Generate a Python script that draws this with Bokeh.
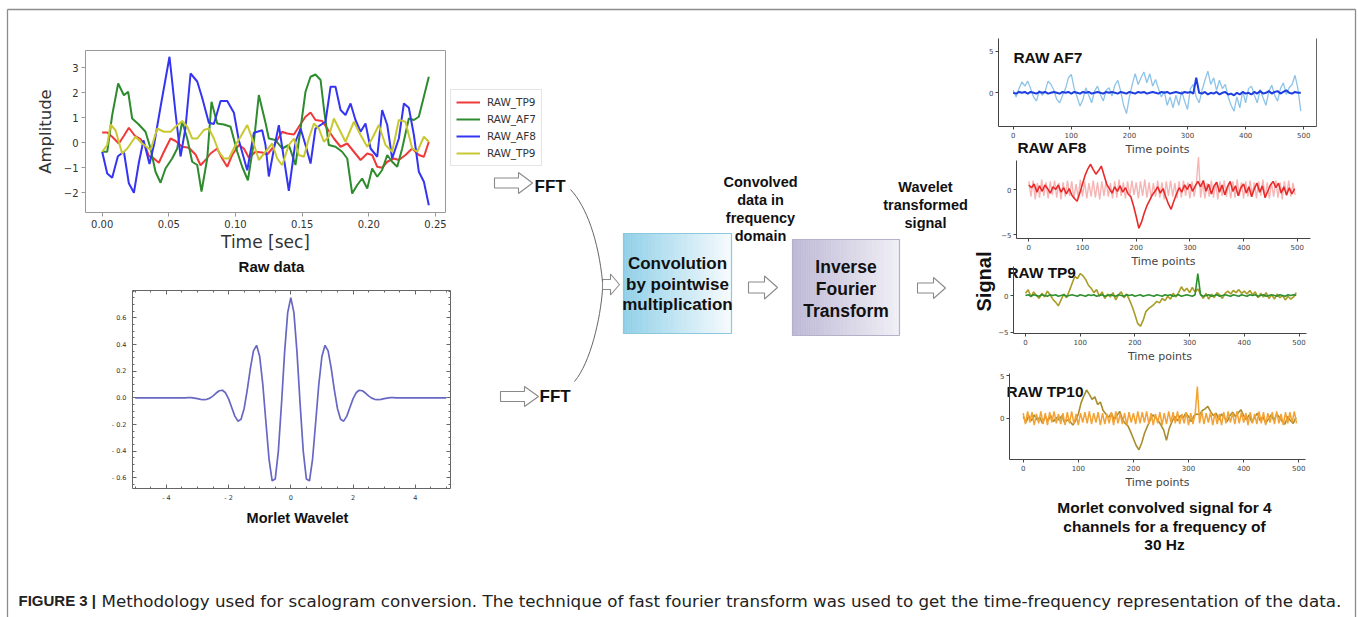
import numpy as np
from bokeh.plotting import figure
from bokeh.models import (Range1d, FixedTicker, Legend, LegendItem, LinearAxis,
                          CustomJSTickFormatter, PrintfTickFormatter)
from bokeh.embed import file_html
from bokeh.resources import INLINE
from bokeh.core.properties import value


def nums(s):
    return [float(x) for x in s.split()]


# ============================ DATA ============================
# --- Raw data panel (time in seconds, amplitude) ---
raw_tp9_t = [0.0, 0.0038, 0.0075, 0.0125, 0.0163, 0.02, 0.0245, 0.0288, 0.0325, 0.035, 0.0388, 0.0425,
             0.0463, 0.0513, 0.055, 0.06, 0.065, 0.07, 0.0738, 0.0775, 0.0813, 0.0863, 0.09, 0.0938,
             0.0975, 0.1025, 0.1063, 0.11, 0.115, 0.12, 0.1238, 0.1275, 0.135, 0.1388, 0.1438, 0.1475,
             0.1525, 0.1563, 0.16, 0.165, 0.1688, 0.1738, 0.1788, 0.1838, 0.1888, 0.1938, 0.1988,
             0.2025, 0.2063, 0.21, 0.2138, 0.2188, 0.2225, 0.2275, 0.2325, 0.2375, 0.2413, 0.245]
raw_tp9_v = [0.41, 0.41, 0.24, -0.03, 0.28, 0.6, 0.28, 0.15, -0.16, -0.53, -0.63, -0.8, -0.36, 0.17,
             0.07, -0.16, -0.2, -0.47, -0.9, -0.69, -0.43, -0.23, -0.63, -0.96, -0.49, -0.09, -0.23,
             -0.6, -0.36, -0.39, -0.47, -0.23, 0.44, 0.37, 0.33, 0.64, 1.04, 1.21, 0.91, 0.87, 0.57,
             0.17, -0.16, -0.03, -0.36, -0.69, -0.43, -0.49, -0.96, -1.0, -0.76, -0.63, -0.69, -0.49,
             -0.23, -0.49, -0.56, 0.04]

raw_af7_t = [0.0, 0.0038, 0.0075, 0.012, 0.0163, 0.0195, 0.0225, 0.0275, 0.0325, 0.0363, 0.04, 0.0438,
             0.0475, 0.0525, 0.0563, 0.06, 0.0638, 0.0675, 0.0713, 0.0745, 0.0788, 0.082, 0.0863,
             0.0913, 0.0963, 0.1013, 0.105, 0.1093, 0.1138, 0.1175, 0.1225, 0.125, 0.13, 0.135, 0.14,
             0.145, 0.1488, 0.1525, 0.1563, 0.16, 0.1638, 0.1663, 0.17, 0.175, 0.18, 0.1838, 0.1875,
             0.1913, 0.195, 0.1988, 0.2025, 0.2063, 0.21, 0.2138, 0.2175, 0.2213, 0.225, 0.23, 0.2338,
             0.2375, 0.245]
raw_af7_v = [-0.36, -0.36, 1.1, 2.37, 1.9, 2.04, 0.97, 0.73, 0.44, -0.23, -1.16, -1.6, -1.03, -0.63,
             -0.23, 0.84, 0.17, -0.76, -0.89, -1.95, -0.63, 1.64, 0.77, 0.73, 0.64, -0.36, -0.96, -1.5,
             0.04, 1.91, 0.8, 0.17, 0.11, -0.23, -0.09, -0.89, 0.57, 2.04, 2.64, 2.73, 2.51, 1.37,
             -0.09, -0.16, -0.36, -0.63, -2.03, -1.69, -1.43, -1.83, -1.03, -1.36, -1.09, -0.49, -0.76,
             -0.96, -0.23, 0.97, 0.91, 1.04, 2.64]

raw_af8_t = [0.0, 0.0038, 0.0075, 0.0118, 0.0163, 0.02, 0.0238, 0.0275, 0.031, 0.0355, 0.039, 0.044,
             0.0505, 0.055, 0.0588, 0.0625, 0.0663, 0.0713, 0.075, 0.08, 0.0838, 0.0888, 0.0938, 0.0988,
             0.1025, 0.1088, 0.1138, 0.12, 0.1225, 0.125, 0.1288, 0.1325, 0.1363, 0.14, 0.145, 0.1488,
             0.1525, 0.1563, 0.16, 0.1638, 0.1675, 0.1713, 0.175, 0.1788, 0.1825, 0.1863, 0.19, 0.1938,
             0.1975, 0.2013, 0.2063, 0.21, 0.2138, 0.2175, 0.2225, 0.2263, 0.23, 0.2338, 0.2375,
             0.2413, 0.245]
raw_af8_v = [-0.36, -1.23, -1.4, -0.54, -0.36, -1.62, -2.0, -0.8, 0.1, -0.85, -0.05, 1.5, 3.44, 1.2,
             -0.55, 0.6, 2.77, 2.45, 1.8, 0.8, 0.75, 1.67, 1.67, 1.2, 0.1, -1.1, 0.4, 0.5, -0.09, -1.35,
             -0.25, 0.7, -0.63, -1.92, 0.04, 0.57, -0.09, -0.83, 0.57, 0.71, 0.84, 2.24, 2.24, 1.31,
             1.11, 1.57, 0.91, 0.44, 0.77, -0.23, -0.56, 1.31, 0.71, -0.63, 0.17, 1.57, 1.4, 0.31,
             -1.16, -1.56, -2.5]

raw_tp10_t = [0.0, 0.0038, 0.0063, 0.01, 0.015, 0.0188, 0.025, 0.03, 0.0363, 0.0413, 0.0463, 0.0513,
              0.055, 0.06, 0.0638, 0.0675, 0.0713, 0.0763, 0.08, 0.0838, 0.0875, 0.0913, 0.095, 0.1,
              0.1038, 0.1088, 0.1125, 0.1175, 0.1225, 0.1275, 0.1313, 0.135, 0.14, 0.1438, 0.1475,
              0.1513, 0.155, 0.1588, 0.1625, 0.1663, 0.17, 0.1738, 0.1775, 0.1825, 0.1888, 0.1938,
              0.1988, 0.2025, 0.2075, 0.2125, 0.2175, 0.2225, 0.2275, 0.2325, 0.2363, 0.2413, 0.245]
raw_tp10_v = [-0.36, -0.09, 0.73, 0.5, -0.43, -0.23, 0.24, -0.03, -0.29, 0.57, 0.44, 0.44, 0.64, 0.87,
              0.64, 0.17, 0.17, 0.51, 0.57, 0.17, -0.36, -0.63, -0.63, -0.09, 0.24, 0.71, 0.17, -0.69,
              -0.36, -0.03, -0.63, -0.9, -0.09, 0.17, -0.49, -0.56, 0.17, 0.77, 0.57, 0.04, 0.24, 0.97,
              0.57, 0.04, 0.84, 0.31, -0.16, 0.17, 0.71, -0.09, -0.36, 0.91, 0.84, -0.23, -0.36, 0.24,
              0.04]

raw_labels = ["RAW_TP9", "RAW_AF7", "RAW_AF8", "RAW_TP9"]
raw_xticks = [0.0, 0.05, 0.1, 0.15, 0.2, 0.25]
raw_yticks = [-2, -1, 0, 1, 2, 3]

# --- Morlet wavelet (sampled every 0.1 between -3.5 and 3.5, flat outside) ---
morlet_grid = [round(-3.5 + 0.1 * i, 1) for i in range(71)]
morlet_vals = [0.0, 0.0, 0.001, 0.001, -0.002, -0.006, -0.011, -0.014, -0.011, -0.002, 0.015, 0.036,
               0.053, 0.057, 0.038, -0.008, -0.072, -0.137, -0.175, -0.161, -0.080, 0.059, 0.221,
               0.352, 0.394, 0.310, 0.100, -0.183, -0.459, -0.622, -0.608, -0.399, -0.048, 0.339,
               0.639, 0.751, 0.639, 0.339, -0.048, -0.399, -0.608, -0.622, -0.459, -0.183, 0.100,
               0.310, 0.394, 0.352, 0.221, 0.059, -0.080, -0.161, -0.175, -0.137, -0.072, -0.008,
               0.038, 0.057, 0.053, 0.036, 0.015, -0.002, -0.011, -0.014, -0.011, -0.006, -0.002,
               0.001, 0.001, 0.0, 0.0]
morlet_t = [-5.0] + morlet_grid + [5.0]
morlet_y = [0.0] + morlet_vals + [0.0]
morlet_xticks = [-4, -2, 0, 2, 4]
morlet_yticks = [-0.6, -0.4, -0.2, 0.0, 0.2, 0.4, 0.6]

# --- Convolved signals, 500 time points (slow series every 5 points, fast every 4) ---
af7_raw = nums("""
0.3 -0.5 0.5 1.3 0.8 1.4 0.5 -0.5 -1.0 0.3
-0.3 0.2 1.4 1.0 0.3 -0.8 -1.2 -0.3 0.5 1.8
2.2 0.5 -0.5 -1.6 -0.8 0.6 -0.3 -1.2 0.2 0.8
-0.2 -1.0 0.3 0.6 -0.4 0.9 1.5 0.2 -1.5 -2.5
-0.5 1.0 2.3 1.0 1.8 2.5 1.2 2.3 0.8 1.6
0.5 -0.5 0.2 -1.5 -0.5 -1.8 -0.3 -1.5 0.2 -1.0
-2.0 0.5 1.0 -0.5 -1.2 0.3 1.5 2.6 1.0 1.8
0.3 1.5 0.5 1.0 -0.5 -1.5 -2.2 -0.5 -1.8 0.2
-1.2 0.5 0.8 -0.3 -1.2 0.4 -0.6 -1.5 0.2 0.9
-0.3 -1.0 0.5 1.2 -0.2 0.6 1.0 2.1 0.5 -2.2
""")
af7_conv = nums("""
0.0 -0.1 0.1 0.0 0.1 -0.1 0.1 0.0 -0.1 0.1
0.0 0.1 -0.1 0.0 0.1 0.0 -0.1 0.1 0.0 0.1
-0.1 0.1 0.0 -0.1 0.1 0.0 0.1 -0.1 0.0 0.1
0.0 -0.1 0.1 0.0 0.1 0.0 -0.1 0.1 0.0 -0.1
0.1 0.0 -0.1 0.1 0.0 0.1 -0.1 0.0 0.1 0.0
-0.1 0.1 0.0 0.1 -0.1 0.0 0.1 0.0 -0.1 0.1
0.0 0.1 -0.1 1.8 0.0 -0.1 0.1 -0.2 0.0 -0.1
0.1 -0.2 0.0 0.1 -0.2 -0.1 -0.3 0.0 -0.2 0.1
-0.1 0.0 -0.2 0.1 -0.1 0.2 -0.1 0.0 0.2 -0.1
0.1 0.2 -0.1 0.1 0.3 0.0 -0.1 0.1 0.0 0.0
""")
af8_raw = nums("""
0.9 -0.8 1.0 -1.1 0.7 -0.9 1.1 -0.7 0.8 -1.0
0.9 -0.6 1.0 -0.9 0.7 -1.1 0.8 -0.8 1.0 -0.7
0.9 -1.0 0.6 -0.9 1.1 -0.8 0.9 -1.0 0.7 -0.8
1.0 -0.9 0.8 -1.1 0.9 -0.7 1.0 -0.8 0.7 -1.0
0.9 -0.9 1.1 -0.7 0.8 -1.0 0.9 -0.8 1.0 -0.6
0.8 -1.0 0.9 -0.7 1.1 -0.9 0.8 -1.0 0.7 -0.8
1.0 -0.9 0.8 -1.1 0.9 -0.7 1.0 -0.8 0.7 -1.0
0.9 -0.9 1.0 -0.7 0.8 -1.0 0.9 -0.8 0.7 3.6
-0.9 0.8 -1.0 0.7 -0.8 1.0 -0.9 0.8 -1.1 0.9
-0.7 1.0 -0.8 0.7 -1.0 0.9 -0.9 1.1 -0.7 0.8
-1.0 0.9 -0.8 1.0 -0.6 0.8 -1.0 0.9 -0.7 1.1
-0.9 0.8 -1.0 0.7 -0.8 1.0 -0.9 0.8 -1.1 0.9
-0.7 1.0 -0.8 0.7 -0.6
""")
af8_conv = nums("""
0.5 0.2 0.6 -0.3 0.4 -0.2 0.5 0.1 -0.4 0.3
0.0 0.5 -0.3 0.2 -0.5 0.1 -0.6 -1.0 -1.3 -0.4
0.6 1.6 2.3 2.8 2.2 1.7 2.1 2.6 1.6 0.6
0.1 -0.4 0.3 -0.2 0.4 -0.3 0.2 -0.5 -0.8 -1.8
-3.0 -4.3 -3.6 -2.6 -1.8 -1.2 -0.6 -0.2 0.3 -0.4
0.1 -0.8 -1.6 -2.2 -1.3 -0.5 0.2 -0.3 0.5 0.0
0.6 -0.2 0.4 0.9 0.3 1.0 -0.2 0.6 -0.5 0.4
0.8 -0.3 0.5 -0.6 0.3 0.9 -0.2 0.4 -0.7 0.2
0.6 -0.4 0.3 -0.8 0.1 0.7 -0.3 0.4 -0.9 -0.2
0.5 0.9 0.2 0.7 -0.4 0.3 -0.6 0.2 -0.5 0.1
""")
tp9_raw = nums("""
0.3 0.8 -0.2 0.5 0.0 -0.4 0.3 -0.2 0.6 0.1
-0.5 -0.9 -1.4 -0.6 0.2 -0.3 0.6 1.6 2.6 2.3
3.0 2.7 2.2 1.4 1.0 0.4 0.8 -0.1 0.5 -0.4
0.2 -0.2 0.4 -0.6 0.1 0.5 -0.3 0.2 -0.6 -1.5
-2.6 -3.8 -4.2 -3.4 -2.2 -1.8 -1.5 -1.2 -0.8 -1.0
-0.4 -0.7 -0.1 -0.5 0.3 -0.2 0.4 1.2 0.6 1.0
0.4 1.1 0.5 0.9 0.2 -0.4 0.3 -0.5 0.2 -0.3
0.4 0.1 -0.4 0.3 0.6 0.2 0.7 0.4 0.8 0.3
0.6 0.2 0.7 0.1 0.5 -0.3 0.3 -0.2 0.4 -0.4
0.1 -0.5 0.2 -0.3 0.0 -0.6 -0.1 -0.5 -0.2 0.4
""")
tp9_conv = nums("""
0.0 0.1 -0.1 0.1 0.0 -0.1 0.1 0.0 -0.1 0.1
0.0 0.1 -0.1 0.0 0.1 -0.1 0.0 0.1 0.0 -0.1
0.1 0.0 -0.1 0.1 0.0 0.1 -0.1 0.0 0.1 -0.1
0.0 0.1 0.0 -0.1 0.1 0.0 -0.1 0.1 0.0 0.1
-0.1 0.0 0.1 -0.1 0.0 0.1 0.0 -0.1 0.1 0.0
-0.1 0.1 0.0 0.1 -0.1 0.0 0.1 -0.1 0.0 0.1
0.0 -0.1 0.1 3.0 0.1 -0.1 0.0 0.1 -0.1 0.0
0.1 -0.1 0.0 0.1 0.0 -0.1 0.1 0.0 -0.1 0.1
0.0 -0.1 0.1 0.0 0.1 -0.1 0.0 0.1 -0.1 0.0
0.1 0.0 -0.1 0.1 0.0 -0.1 0.1 0.0 0.1 0.0
""")
tp10_raw = nums("""
0.2 -0.5 0.3 -0.3 0.4 -0.2 0.1 -0.6 0.2 -0.3
0.3 -0.4 0.1 -0.2 0.3 -0.5 -0.2 -0.4 -0.8 -0.3
0.5 1.8 2.6 3.3 2.8 2.2 2.5 1.6 1.9 0.9
0.5 0.1 0.6 -0.2 0.3 0.8 -0.1 -0.6 -0.9 -1.6
-2.4 -3.2 -3.7 -2.9 -1.8 -1.0 -0.3 0.4 0.1 -0.3
-0.8 -1.4 -2.6 -1.2 -0.4 0.2 -0.3 0.3 0.0 0.6
0.2 -0.4 0.3 0.5 0.4 0.9 1.1 1.4 0.8 0.3
0.6 -0.2 0.5 0.1 -0.4 0.3 0.7 0.2 0.6 1.0
0.3 -0.2 0.4 -0.5 0.1 0.6 -0.3 0.2 -0.6 -0.1
0.4 -0.3 0.5 0.1 -0.4 -0.7 0.2 -0.3 -0.6 0.1
""")
tp10_conv = nums("""
0.6 -0.7 0.8 -0.5 0.7 -0.8 0.5 -0.6 0.8 -0.7
0.6 -0.8 0.7 -0.5 0.8 -0.6 0.5 -0.7 0.6 -0.8
0.7 -0.6 0.8 -0.7 0.5 -0.8 0.6 -0.5 0.7 -0.6
0.8 -0.7 0.6 -0.5 0.7 -0.8 0.6 -0.7 0.5 -0.6
0.7 -0.8 0.8 -0.6 0.5 -0.7 0.6 -0.8 0.7 -0.5
0.6 -0.7 0.8 -0.6 0.7 -0.5 0.8 -0.7 0.6 -0.8
0.5 -0.6 0.7 -0.8 0.6 -0.7 0.8 -0.5 0.7 -0.6
0.8 -0.7 0.5 -0.6 0.7 -0.8 0.6 -0.7 0.5 3.7
-0.6 0.8 -0.7 0.6 -0.5 0.7 -0.8 0.6 -0.7 0.5
-0.8 0.7 -0.6 0.8 -0.5 0.6 -0.7 0.8 -0.6 0.7
-0.5 0.6 -0.8 0.7 -0.6 0.5 -0.7 0.8 -0.6 0.7
-0.8 0.6 -0.5 0.7 -0.7 0.8 -0.6 0.5 -0.8 0.7
-0.6 0.7 -0.5 0.8 -0.6
""")
panel_xticks = [0, 100, 200, 300, 400, 500]

# ============================ LAYOUT / STYLE ============================
W, H = 1358, 617
SANS = "Liberation Sans"
MPL = "DejaVu Sans"

# one canvas in pixel units (y downwards); each sub-plot gets its own pair of ranges
p = figure(width=W, height=H, output_backend="svg", toolbar_location=None,
           x_range=Range1d(0, W), y_range=Range1d(H, 0), x_axis_type=None, y_axis_type=None,
           min_border=0)
p.outline_line_color = None
p.background_fill_color = "white"
p.border_fill_color = "white"
p.xgrid.visible = False
p.ygrid.visible = False

XR, YR = {}, {}


def sub_ranges(name, box, xdom, ydom):
    px0, py0, px1, py1 = box          # left, top, right, bottom (pixels)
    x0, x1 = xdom
    ybot, ytop = ydom
    sx = (x1 - x0) / (px1 - px0)
    XR[name] = Range1d(x0 - px0 * sx, x0 + (W - px0) * sx)
    sy = (ytop - ybot) / (py1 - py0)
    YR[name] = Range1d(ytop - (H - py0) * sy, ytop + py0 * sy)


# sub-plot boxes and data domains
RAW_BOX, RAW_X, RAW_Y = (85, 50, 445, 212), (-0.0125, 0.2575), (-2.79, 3.69)
MOR_BOX, MOR_X, MOR_Y = (132, 290, 450, 488), (-5.09, 5.135), (-0.68, 0.805)
PANELS = [
    ("af7", (998, 38, 1316, 126), (-25.3, 522), (-4.05, 6.52), [0, 5]),
    ("af8", (1016, 160, 1310, 238), (-22.9, 524.6), (-5.44, 3.22), [-5, 0]),
    ("tp9", (1013, 266, 1306, 333), (-21.9, 513.7), (-5.18, 3.96), [-5, 0]),
    ("tp10", (1009, 373, 1305, 459), (-24.9, 512.3), (-4.84, 5.24), [0, 5]),
]
sub_ranges("raw", RAW_BOX, RAW_X, RAW_Y)
sub_ranges("mor", MOR_BOX, MOR_X, MOR_Y)
for name, box, xd, yd, _ in PANELS:
    sub_ranges(name, box, xd, yd)
p.extra_x_ranges = XR
p.extra_y_ranges = YR

minus_fmt = CustomJSTickFormatter(code="return tick < 0 ? '\u2212' + Math.abs(tick) : '' + tick;")
blank_fmt = CustomJSTickFormatter(code="return '';")


def add_axis(side, name, loc, bounds, ticks=(), minor=(), fmt=None, size="7px", color="#333333",
             line="#555555", tin=0, tout=3, minor_in=0, standoff=2, label=None, label_size="11px",
             label_standoff=2):
    ax = LinearAxis(x_range_name=name, y_range_name=name, fixed_location=loc, bounds=bounds)
    ax.ticker = FixedTicker(ticks=list(ticks), minor_ticks=list(minor))
    if fmt is not None:
        ax.formatter = fmt
    ax.major_label_text_font = MPL
    ax.major_label_text_font_size = size
    ax.major_label_text_color = color
    ax.major_label_standoff = standoff
    ax.axis_line_color = line
    ax.major_tick_line_color = line
    ax.major_tick_in = tin
    ax.major_tick_out = tout
    if minor:
        ax.minor_tick_line_color = line
        ax.minor_tick_in = minor_in
        ax.minor_tick_out = 0
    else:
        ax.minor_tick_line_color = None
    if label:
        ax.axis_label = label
        ax.axis_label_text_font = MPL
        ax.axis_label_text_font_style = "normal"
        ax.axis_label_text_font_size = label_size
        ax.axis_label_text_color = color
        ax.axis_label_standoff = label_standoff
    p.add_layout(ax, side)
    return ax


# ---------------- diagram (pixel units) ----------------
p.multi_line(xs=[[7, 1355], [7, 7], [1355, 1355]], ys=[[9, 9], [9, 640], [9, 640]],
             line_color="#8c8c8c", line_width=1.3)


def hexrgb(c):
    c = c.lstrip("#")
    return tuple(int(c[i:i + 2], 16) for i in (0, 2, 4))


def gradient_box(x0, x1, y0, y1, c0, c1, border, n=60):
    a, b = hexrgb(c0), hexrgb(c1)
    ls, rs, cols = [], [], []
    for i in range(n):
        f = (i + 0.5) / n
        cols.append("#%02x%02x%02x" % tuple(int(round(a[k] + (b[k] - a[k]) * f)) for k in range(3)))
        ls.append(x0 + (x1 - x0) * i / n)
        rs.append(x0 + (x1 - x0) * (i + 1) / n)
    p.quad(left=ls, right=rs, top=y0, bottom=y1, fill_color=cols, line_color=cols, line_width=0.6)
    p.quad(left=x0, right=x1, top=y0, bottom=y1, fill_color=None, line_color=border, line_width=1.2)


gradient_box(623, 731, 233, 333, "#8fcfe8", "#f6fbfd", "#8cc9df")
gradient_box(792, 899, 239, 335, "#bdb8d6", "#f0eff5", "#b5b1c9")


def hollow_arrow(x0, xh, x1, cy, s, h):
    xs = [x0, xh, xh, x1, xh, xh, x0]
    ys = [cy - s, cy - s, cy - h, cy, cy + h, cy + s, cy + s]
    p.patch(xs, ys, fill_color="white", line_color="#8a8a8a", line_width=1.1)


hollow_arrow(494, 518, 532, 182.5, 5, 10.5)
hollow_arrow(500, 524, 538, 396, 5, 10)
hollow_arrow(602, 610, 619, 284, 5, 10.5)
hollow_arrow(748, 764, 777, 287, 5.5, 11.5)
hollow_arrow(917, 933, 945, 287.5, 5, 10.5)

p.bezier(x0=[570, 574], y0=[189, 381], x1=[602, 602], y1=[281, 289],
         cx0=[586, 590], cy0=[206, 362], cx1=[598, 600], cy1=[240, 318],
         line_color="#666666", line_width=1)


def texts(items, size, bold=True, align="center", font=SANS, color="#111111", angle=0.0):
    p.text(x=[i[1] for i in items], y=[i[2] for i in items], text=[i[0] for i in items],
           text_font=value(font), text_font_size=size,
           text_font_style="bold" if bold else "normal", text_align=align,
           text_baseline="middle", text_color=color, angle=angle)


texts([("FFT", 534, 186), ("FFT", 539, 396)], "17px", align="left")
texts([("Convolution", 677, 263), ("by pointwise", 677, 284), ("multiplication", 677, 304)], "17px")
texts([("Convolved", 760, 181), ("data in", 760, 199), ("frequency", 760, 217), ("domain", 760, 235)], "14.5px")
texts([("Inverse", 845.5, 266), ("Fourier", 845.5, 288), ("Transform", 845.5, 310)], "17.5px")
texts([("Wavelet", 925, 186), ("transformed", 925, 204), ("signal", 925, 222)], "14.5px")
texts([("Raw data", 271, 266)], "15px")
texts([("Morlet Wavelet", 297, 517)], "14.5px")
texts([("RAW AF7", 1013, 57), ("RAW AF8", 1017, 147), ("RAW TP9", 1007, 272), ("RAW TP10", 1006, 391)],
      "15.4px", align="left")
texts([("Signal", 983, 281)], "20px", angle=np.pi / 2)
texts([("Morlet convolved signal for 4", 1164, 507), ("channels for a frequency of", 1164, 526),
       ("30 Hz", 1164, 544)], "15.5px")
texts([("FIGURE 3 |", 18, 600)], "15px", align="left", color="#222222")
texts([("Methodology used for scalogram conversion. The technique of fast fourier transform was used "
        "to get the time-frequency representation of the data.", 101, 600)], "16.7px", bold=False,
      align="left", font=MPL, color="#222222")

# ---------------- Raw data plot ----------------
rr = []
for tt, vv, col in [(raw_tp9_t, raw_tp9_v, "#f03a3a"), (raw_af7_t, raw_af7_v, "#2e8b2e"),
                    (raw_af8_t, raw_af8_v, "#3434f2"), (raw_tp10_t, raw_tp10_v, "#c8c832")]:
    rr.append(p.line(tt, vv, line_color=col, line_width=2, x_range_name="raw", y_range_name="raw"))
add_axis("below", "raw", RAW_Y[0], RAW_X, raw_xticks, fmt=PrintfTickFormatter(format="%.2f"),
         size="10px", line="#999999", tout=4, standoff=3, label="Time [sec]", label_size="17px",
         label_standoff=1)
add_axis("left", "raw", RAW_X[0], RAW_Y, raw_yticks, fmt=minus_fmt, size="10px", line="#999999",
         tout=4, standoff=3, label="Amplitude", label_size="16.5px", label_standoff=6)
add_axis("above", "raw", RAW_Y[1], RAW_X, line="#999999", tout=0)
add_axis("right", "raw", RAW_X[1], RAW_Y, line="#999999", tout=0)
legend = Legend(items=[LegendItem(label=lab, renderers=[r]) for lab, r in zip(raw_labels, rr)],
                location=(450, H - 166))
legend.label_text_font = MPL
legend.label_text_font_size = "10.5px"
legend.label_text_color = "#333333"
legend.border_line_color = "#cccccc"
legend.background_fill_color = "white"
legend.glyph_width = 24
legend.glyph_height = 14
legend.label_height = 14
legend.spacing = 3
legend.padding = 5
legend.margin = 0
legend.label_standoff = 7
p.add_layout(legend)

# ---------------- Morlet wavelet plot ----------------
p.line(morlet_t, morlet_y, line_color="#6767c4", line_width=1.7, x_range_name="mor", y_range_name="mor")
xminor = [x * 0.5 for x in range(-10, 11)]
yminor = [round(y * 0.05, 2) for y in range(-13, 17)]
mx_fmt = CustomJSTickFormatter(code="return tick < 0 ? '- ' + Math.abs(tick) : '' + tick;")
my_fmt = CustomJSTickFormatter(
    code="return tick < -1e-9 ? '- ' + Math.abs(tick).toFixed(1) : Math.abs(tick).toFixed(1);")
add_axis("below", "mor", MOR_Y[0], MOR_X, morlet_xticks, xminor, fmt=mx_fmt, size="6.5px",
         line="#666666", tin=4, tout=0, minor_in=2, standoff=5)
add_axis("above", "mor", MOR_Y[1], MOR_X, morlet_xticks, xminor, fmt=blank_fmt, size="6.5px",
         line="#666666", tin=4, tout=0, minor_in=2)
add_axis("left", "mor", MOR_X[0], MOR_Y, morlet_yticks, yminor, fmt=my_fmt, size="6.5px",
         line="#666666", tin=4, tout=0, minor_in=2, standoff=6)
add_axis("right", "mor", MOR_X[1], MOR_Y, morlet_yticks, yminor, fmt=blank_fmt, size="6.5px",
         line="#666666", tin=4, tout=0, minor_in=2)

# ---------------- four convolved-signal panels ----------------
series = {
    "af7": (af7_raw, "#8ec3e8", 1.3, af7_conv, "#1d3fe0", 2.0),
    "af8": (af8_raw, "#f6b4b4", 1.4, af8_conv, "#e92a2a", 1.6),
    "tp9": (tp9_raw, "#a89c24", 1.6, tp9_conv, "#2e8f2e", 1.6),
    "tp10": (tp10_raw, "#a98d2c", 1.6, tp10_conv, "#f4a233", 1.5),
}
for name, box, xd, yd, yt in PANELS:
    v1, c1, w1, v2, c2, w2 = series[name]
    st1 = 5 if len(v1) == 100 else 4
    st2 = 5 if len(v2) == 100 else 4
    p.line([st1 * i for i in range(len(v1))], v1, line_color=c1, line_width=w1,
           x_range_name=name, y_range_name=name)
    p.line([st2 * i for i in range(len(v2))], v2, line_color=c2, line_width=w2,
           x_range_name=name, y_range_name=name)
    add_axis("below", name, yd[0], xd, panel_xticks, size="7px", color="#444444", line="#444444",
             tout=3, standoff=2, label="Time points", label_size="11px", label_standoff=2)
    add_axis("left", name, xd[0], yd, yt, fmt=minus_fmt, size="7px", color="#444444",
             line="#444444", tout=3, standoff=2)
    if name == "af7":
        add_axis("right", name, xd[1], yd, line="#666666", tout=0)

open("out.html", "w").write(file_html(p, INLINE))
